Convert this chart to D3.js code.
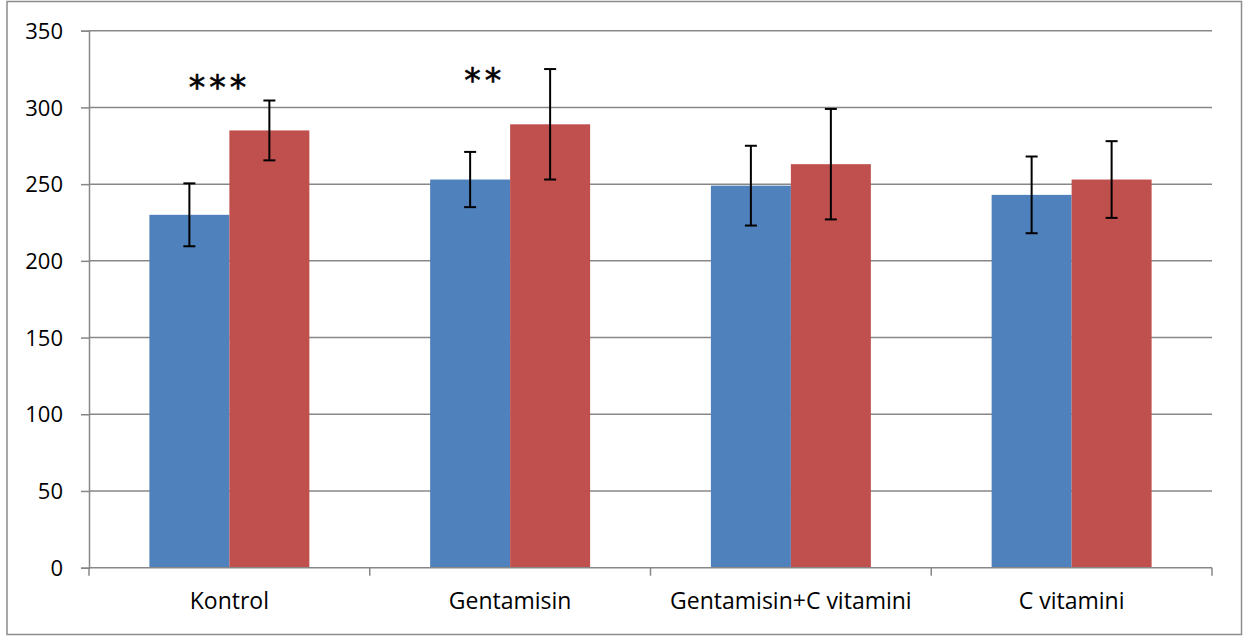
<!DOCTYPE html>
<html><head><meta charset="utf-8">
<script src="https://cdn.jsdelivr.net/npm/d3@7"></script>
<style>body{margin:0;background:#fff}svg{display:block}text{font-family:"Open Sans",sans-serif}</style>
</head><body>
<svg id="c" width="1260" height="637"></svg>
<script>
const categories = ["Kontrol","Gentamisin","Gentamisin+C vitamini","C vitamini"];
const series1 = [230, 253, 249, 243];
const series1Err = [20.5, 18, 26, 25];
const series2 = [285, 289, 263, 253];
const series2Err = [19.5, 36, 36, 25];
const significance = ["***","**","",""];
const yTicks = [0,50,100,150,200,250,300,350];

const svg = d3.select("#c");
const L = 89, R = 1212, T = 30.7, B = 567.7;
const x = d3.scaleBand().domain(categories).range([L, R]).paddingInner(0).paddingOuter(0);
const inner = d3.scaleBand().domain([0,1]).range([0, x.bandwidth()]).paddingOuter(0.755).paddingInner(0);
const y = d3.scaleLinear().domain([0,350]).range([B, T]);
const colors = ["#4F81BD","#C0504D"];

// outer frame
svg.append("rect").attr("x",7).attr("y",1.5).attr("width",1234.5).attr("height",633)
  .attr("fill","#fff").attr("stroke","#8c8c8c").attr("stroke-width",1.5);

// gridlines
const g = svg.append("g");
g.selectAll("line.grid").data(yTicks.filter(d=>d>0)).join("line")
  .attr("x1",L).attr("x2",R).attr("y1",d=>y(d)).attr("y2",d=>y(d))
  .attr("stroke","#878787").attr("stroke-width",1.5);

// y axis
const yAxis = d3.axisLeft(y).tickValues(yTicks).tickSize(8).tickPadding(18).tickFormat(d3.format("d"));
const ya = svg.append("g").attr("transform",`translate(${L},0)`).call(yAxis);
ya.select(".domain").attr("stroke","#878787").attr("stroke-width",1.5);
ya.selectAll(".tick line").attr("stroke","#878787").attr("stroke-width",1.5);
ya.selectAll(".tick text").style("font-size","22px").attr("fill","#000").attr("dy","0.35em");

// bars
const data = [];
categories.forEach((c,i)=>{
  data.push({c, s:0, v:series1[i], e:series1Err[i]});
  data.push({c, s:1, v:series2[i], e:series2Err[i]});
});
svg.selectAll("rect.bar").data(data).join("rect")
  .attr("x",d=>x(d.c)+inner(d.s)).attr("width",inner.bandwidth())
  .attr("y",d=>y(d.v)).attr("height",d=>y(0)-y(d.v))
  .attr("fill",d=>colors[d.s]);

// x axis
const xAxis = d3.axisBottom(x).tickSize(0).tickPadding(25);
const xa = svg.append("g").attr("transform",`translate(0,${B})`).call(xAxis);
xa.select(".domain").remove();
xa.selectAll(".tick text").style("font-size","23px").attr("fill","#000");
svg.append("line").attr("x1",L).attr("x2",R).attr("y1",B).attr("y2",B).attr("stroke","#878787").attr("stroke-width",1.5);
const bounds = categories.map(c=>x(c)).concat([R]);
svg.selectAll("line.xt").data(bounds).join("line")
  .attr("x1",d=>d).attr("x2",d=>d).attr("y1",B).attr("y2",B+8)
  .attr("stroke","#878787").attr("stroke-width",1.5);

// error bars
const eb = svg.append("g").attr("stroke","#000").attr("stroke-width",2);
data.forEach(d=>{
  const cx = x(d.c)+inner(d.s)+inner.bandwidth()/2;
  eb.append("line").attr("x1",cx).attr("x2",cx).attr("y1",y(d.v+d.e)).attr("y2",y(d.v-d.e));
  eb.append("line").attr("x1",cx-6).attr("x2",cx+6).attr("y1",y(d.v+d.e)).attr("y2",y(d.v+d.e));
  eb.append("line").attr("x1",cx-6).attr("x2",cx+6).attr("y1",y(d.v-d.e)).attr("y2",y(d.v-d.e));
});

// significance markers
const sigDx = [128.5, 113];
const sigY = [99, 92];
svg.selectAll("text.sig").data(categories.map((c,i)=>({c,t:significance[i],i})).filter(d=>d.t)).join("text")
  .attr("x",d=>x(d.c)+sigDx[d.i]+2)
  .attr("y",d=>sigY[d.i])
  .attr("text-anchor","middle").style("font-size","33px").attr("letter-spacing",4)
  .style("font-family","'DejaVu Sans',sans-serif").attr("stroke","#000").attr("stroke-width",0.6)
  .text(d=>d.t);
</script>
</body></html>
